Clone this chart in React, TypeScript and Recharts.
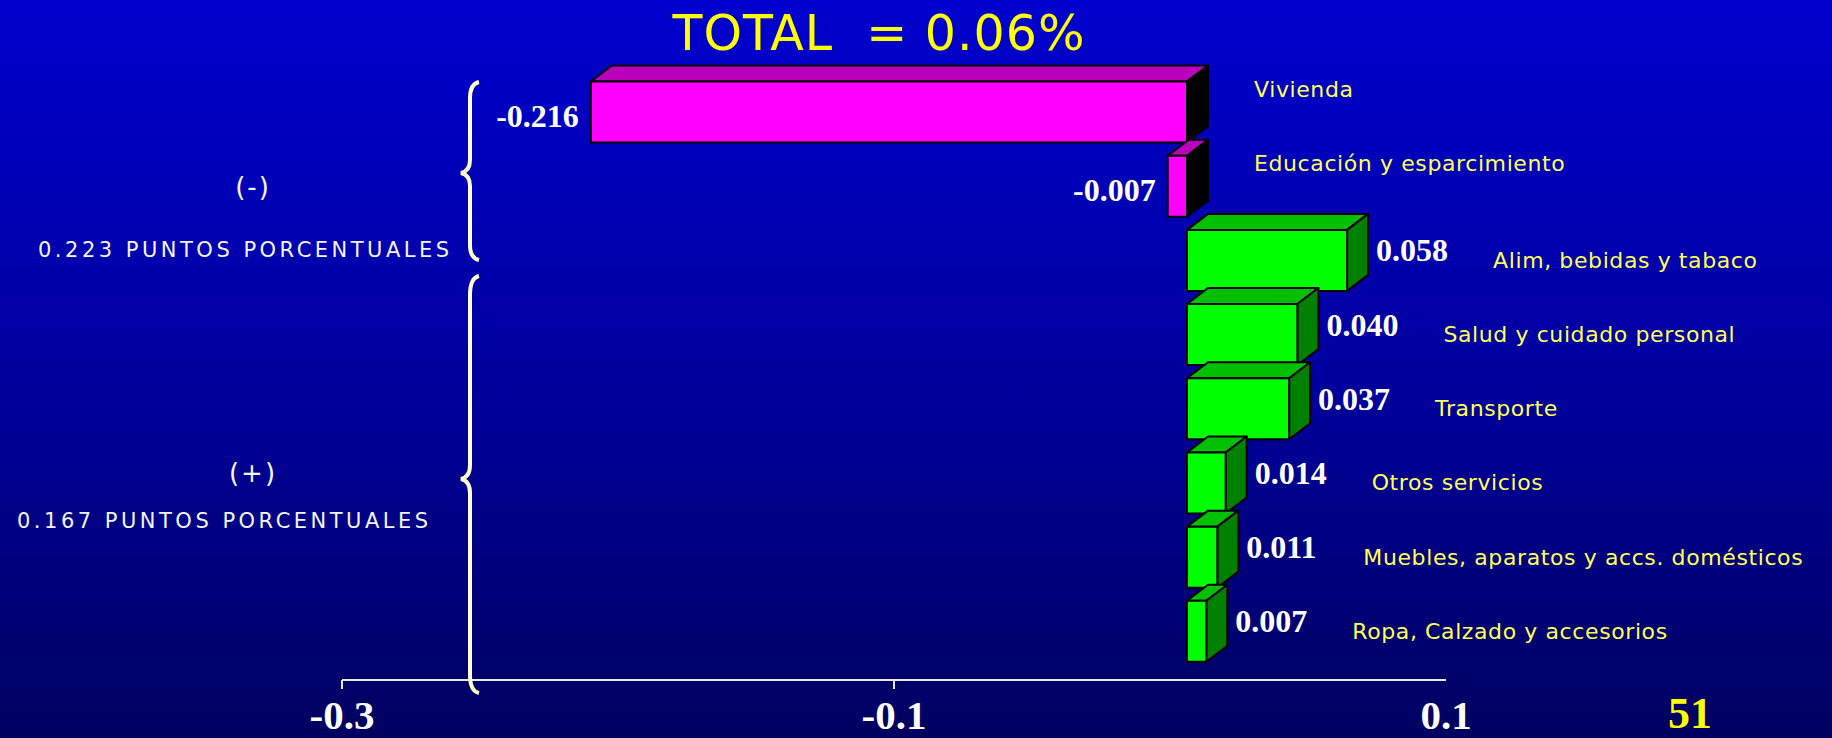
import React from "react";
import { BarChart, Bar, XAxis, YAxis, LabelList } from "recharts";

// ── Data ──
const categories = [
  "Vivienda",
  "Educación y esparcimiento",
  "Alim, bebidas y tabaco",
  "Salud y cuidado personal",
  "Transporte",
  "Otros servicios",
  "Muebles, aparatos y accs. domésticos",
  "Ropa, Calzado y accesorios",
];
const contributions = [-0.216, -0.007, 0.058, 0.04, 0.037, 0.014, 0.011, 0.007];
const xTicks = [-0.3, -0.1, 0.1];

const data = categories.map((name, i) => ({ name, value: contributions[i] }));

// ── Look ──
const W = 1832;
const H = 738;
const SHIFT = 17; // front face sits in front of the axis plane
const DX = 21;
const DY = 16;
const CREAM = "#FFFFCC";
const NAME_YELLOW = "#FFFF55";

const faces = (v: number) =>
  v < 0
    ? { front: "#FF00FF", top: "#BB00BB", side: "#000000" }
    : { front: "#00FF00", top: "#00C000", side: "#008000" };

function Bar3D(props: any) {
  const { x, y, width, height, value } = props;
  const v = Array.isArray(value) ? value[1] - value[0] : value;
  const x0 = Math.min(x, x + width) + SHIFT;
  const w = Math.abs(width);
  const c = faces(v);
  const x1 = x0 + w;
  const y1 = y + height;
  return (
    <g stroke="#000" strokeWidth={2} strokeLinejoin="round">
      <polygon points={`${x0},${y} ${x0 + DX},${y - DY} ${x1 + DX},${y - DY} ${x1},${y}`} fill={c.top} />
      <polygon points={`${x1},${y} ${x1 + DX},${y - DY} ${x1 + DX},${y1 - DY} ${x1},${y1}`} fill={c.side} />
      <rect x={x0} y={y} width={w} height={height} fill={c.front} />
    </g>
  );
}

function ValueLabel(props: any) {
  const { x, y, width, height, value } = props;
  const x0 = Math.min(x, x + width) + SHIFT;
  const w = Math.abs(width);
  const cy = y + height / 2;
  const neg = value < 0;
  return (
    <text
      x={neg ? x0 - 12 : x0 + w + DX + 8}
      y={neg ? cy + 4 : cy - 10}
      textAnchor={neg ? "end" : "start"}
      dominantBaseline="central"
      fill="#FFFFFF"
      fontFamily="'Liberation Serif', serif"
      fontWeight="bold"
      fontSize={32}
    >
      {value.toFixed(3)}
    </text>
  );
}

function NameLabel(props: any) {
  const { x, y, width, height, value, index } = props;
  const x0 = Math.min(x, x + width) + SHIFT;
  const w = Math.abs(width);
  const cy = y + height / 2;
  const neg = contributions[index] < 0;
  return (
    <text
      x={neg ? x0 + w + 67 : x0 + w + 146}
      y={neg ? cy - 23 : cy}
      dominantBaseline="central"
      fill={NAME_YELLOW}
      fontFamily="'DejaVu Sans', sans-serif"
      fontSize={22}
      letterSpacing={0.6}
    >
      {value}
    </text>
  );
}

function AxisTick(props: any) {
  const { x, y, payload, index } = props;
  const last = index === xTicks.length - 1;
  return (
    <g>
      {!last && <line x1={x} y1={y} x2={x} y2={y + 9} stroke="#E8E8E8" strokeWidth={2} />}
      <text
        x={x}
        y={y + 49}
        textAnchor="middle"
        fill="#FFFFFF"
        fontFamily="'Liberation Serif', serif"
        fontWeight="bold"
        fontSize={41}
      >
        {payload.value.toFixed(1)}
      </text>
    </g>
  );
}

function Overlay() {
  const side = {
    fill: "#F4F4FF",
    fontFamily: "'DejaVu Sans', sans-serif",
    fontSize: 21,
    letterSpacing: 3.5,
    whiteSpace: "pre" as const,
  };
  return (
    <svg width={W} height={H} style={{ position: "absolute", left: 0, top: 0, pointerEvents: "none" }}>
      <text
        x={879}
        y={50}
        textAnchor="middle"
        fill="#FFFF00"
        fontFamily="'DejaVu Sans', sans-serif"
        fontSize={49}
        letterSpacing={1}
        style={{ whiteSpace: "pre" }}
      >
        {"TOTAL  = 0.06%"}
      </text>

      <text x={253} y={196} textAnchor="middle" {...side} fontSize={26} letterSpacing={2}>(-)</text>
      <text x={38} y={257} {...side}>0.223 PUNTOS PORCENTUALES</text>
      <text x={253} y={482} textAnchor="middle" {...side} fontSize={26} letterSpacing={2}>(+)</text>
      <text x={17} y={528} {...side}>{"0.167  PUNTOS PORCENTUALES"}</text>

      <path
        d="M 479 82 Q 470 84 470 98 L 470 160 Q 470 171 461 173 Q 470 175 470 186 L 470 245 Q 470 258 479 260"
        fill="none"
        stroke={CREAM}
        strokeWidth={4}
      />
      <path
        d="M 479 276 Q 470 278 470 295 L 470 465 Q 470 477 461 479 Q 470 481 470 493 L 470 675 Q 470 691 479 693"
        fill="none"
        stroke={CREAM}
        strokeWidth={4}
      />

      <text
        x={1690}
        y={728}
        textAnchor="middle"
        fill="#FFFF00"
        fontFamily="'Liberation Serif', serif"
        fontWeight="bold"
        fontSize={44}
      >
        51
      </text>
    </svg>
  );
}

export default function App() {
  return (
    <div
      style={{
        position: "absolute",
        left: 0,
        top: 0,
        width: W,
        height: H,
        overflow: "hidden",
        background: "linear-gradient(to bottom, #0000CE 0%, #00009A 55%, #000060 100%)",
      }}
    >
      <BarChart
        width={W}
        height={H}
        data={data}
        layout="vertical"
        margin={{ top: 74.5, right: 386, left: 342, bottom: 0 }}
        barSize={61}
      >
        <XAxis
          type="number"
          domain={[-0.3, 0.1]}
          ticks={xTicks}
          allowDataOverflow
          height={58}
          axisLine={{ stroke: "#E8E8E8", strokeWidth: 2 }}
          tickLine={false}
          tickSize={0}
          tickMargin={0}
          tick={<AxisTick />}
          interval={0}
        />
        <YAxis type="category" dataKey="name" hide width={0} padding={{ top: 0, bottom: 12 }} />
        <Bar dataKey="value" isAnimationActive={false} shape={(p: any) => <Bar3D {...p} />}>
          <LabelList dataKey="value" content={(p: any) => <ValueLabel {...p} />} />
          <LabelList dataKey="name" content={(p: any) => <NameLabel {...p} />} />
        </Bar>
      </BarChart>
      <Overlay />
    </div>
  );
}
